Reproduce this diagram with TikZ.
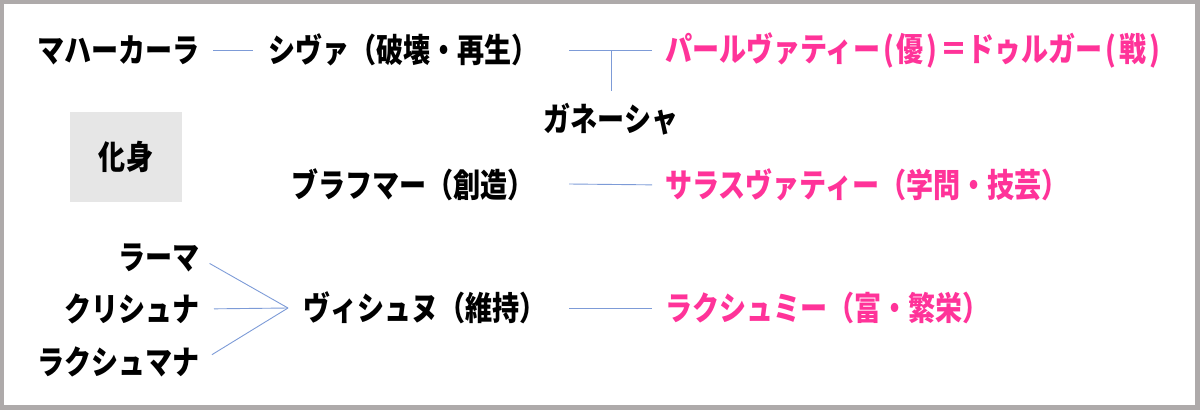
\documentclass[tikz,border=0pt]{standalone}
\usepackage{fontspec}
\newfontfamily\jpfont[FakeStretch=0.82]{Noto Sans CJK JP Black}
\usepackage{tikz}
\usetikzlibrary{calc}

\definecolor{linkblue}{RGB}{125,155,215}
\definecolor{godpink}{RGB}{255,51,153}
\definecolor{framegray}{RGB}{174,170,170}
\definecolor{boxgray}{RGB}{230,230,230}

\tikzset{
  god/.style={inner sep=0pt, font=\jpfont\fontsize{33}{36}\selectfont},
  wife/.style={god, text=godpink, anchor=west},
  avatar/.style={god, anchor=east},
  link/.style={linkblue, line width=0.9pt}
}

\begin{document}
\begin{tikzpicture}[x=1pt, y=-1pt]
      \useasboundingbox (0,0) rectangle (1200,410);
      \draw[framegray, line width=4.5pt] (2,2) rectangle (1197.5,407.5);

      \node[fill=boxgray, minimum width=112pt, minimum height=90pt, font=\jpfont\fontsize{33}{36}\selectfont] (incarnation) at (126,157) {化身};

      \node[avatar] (mahakala) at (200,50) {マハーカーラ};
      \node[god, anchor=west] (shiva) at (268,50) {シヴァ（破壊・再生）};
      \node[wife] (parvati) at (665,50) {パールヴァティー\kern3pt(\kern3pt優\kern3pt)\kern3pt＝ドゥルガー\kern3pt(\kern3pt戦\kern3pt)};
      \node[god] (ganesha) at (611,119) {ガネーシャ};

      \node[god, anchor=west] (brahma) at (291,185) {ブラフマー（創造）};
      \node[wife] (sarasvati) at (665,185) {サラスヴァティー（学問・技芸）};

      \node[avatar] (rama) at (200,258) {ラーマ};
      \node[avatar] (krishna) at (200,309) {クリシュナ};
      \node[avatar] (lakshmana) at (200,362) {ラクシュマナ};
      \node[god, anchor=west] (vishnu) at (303,308) {ヴィシュヌ（維持）};
      \node[wife] (lakshmi) at (665,308) {ラクシュミー（富・繁栄）};

      \coordinate (shivaend) at (569,50);
      \coordinate (tee) at (611,50);
      \coordinate (brahmaend) at (569,184);
      \coordinate (vishnuend) at (569,308);
      \coordinate (fan) at (288,308);

      \draw[link, shorten <=13pt, shorten >=15pt] (mahakala.east) -- (shiva.west);
      \draw[link, shorten >=13pt] (shivaend) -- (parvati.west);
      \draw[link] (tee) -- (ganesha.north |- 0,91);
      \draw[link, shorten >=13pt] (brahmaend) -- (sarasvati.west);
      \draw[link, shorten >=13pt] (vishnuend) -- (lakshmi.west);

      \draw[link, shorten <=11pt] (rama.east) -- (fan);
      \draw[link, shorten <=14pt] (krishna.east) -- (fan);
      \draw[link, shorten <=14pt] (lakshmana.east) -- (fan);
    \end{tikzpicture}
\end{document}
